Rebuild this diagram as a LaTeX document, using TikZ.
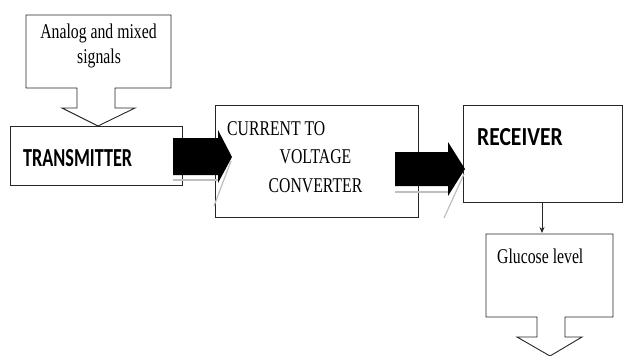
\documentclass[tikz,border=0pt]{standalone}
\usepackage{fontspec}
\setmainfont{Liberation Serif}
\newfontfamily\narrowserif[FakeStretch=0.75]{Liberation Serif}
\newfontfamily\calibT[FakeStretch=0.70]{Carlito}
\newfontfamily\calibR[FakeStretch=0.83]{Carlito}
\usetikzlibrary{arrows.meta}
\tikzset{
  boxline/.style={draw=black!85, line width=0.9pt},
  serifText/.style={font=\narrowserif\fontsize{21}{26}\selectfont, inner sep=0pt, align=center},
  bigCapsT/.style={font=\calibT\bfseries\fontsize{26}{30}\selectfont, inner sep=0pt},
  bigCapsR/.style={font=\calibR\bfseries\fontsize{26}{30}\selectfont, inner sep=0pt},
  blockArrow/.style={fill=black, draw=none},
  shadowLine/.style={draw=black!25, line width=1.2pt},
}
\begin{document}
\begin{tikzpicture}[x=1pt,y=-1pt]
\useasboundingbox[fill=white] (0,0) rectangle (624,356);

% Callout: Analog and mixed signals
\draw[boxline] (26,15) -- (171,15) -- (171,88) -- (115,88) -- (115,108) -- (135,108)
  -- (98,126) -- (62,108) -- (77,108) -- (77,88) -- (26,88) -- cycle;
\node[serifText, anchor=base] (sig1) at (98.5,38) {Analog and mixed};
\node[serifText, anchor=base] (sig2) at (99,63) {signals};

% Transmitter
\node[boxline, rectangle, minimum width=172pt, minimum height=59pt, inner sep=0pt] (tx) at (96,155.5) {};
\node[bigCapsT, anchor=base west] (txt) at (23,166) {TRANSMITTER};

% Converter
\node[boxline, rectangle, minimum width=203pt, minimum height=112pt, inner sep=0pt] (conv) at (316.5,161) {};
\node[serifText, anchor=base west] (cv1) at (227,135) {CURRENT TO};
\node[serifText, anchor=base] (cv2) at (315.5,163) {VOLTAGE};
\node[serifText, anchor=base] (cv3) at (315.5,192) {CONVERTER};

% Receiver
\node[boxline, rectangle, minimum width=159pt, minimum height=97pt, inner sep=0pt] (rx) at (542.5,153.5) {};
\node[bigCapsR, anchor=base west] (rxt) at (477,145) {RECEIVER};

% Glucose callout
\draw[boxline] (486,234) -- (613,234) -- (613,317) -- (565,317) -- (565,337) -- (582,337)
  -- (550,356) -- (517,337) -- (537,337) -- (537,317) -- (486,317) -- cycle;
\node[serifText, anchor=base west] (glu) at (497,263) {Glucose level};
\coordinate (gtop) at (542,233);

% Block arrow 1 (transmitter -> converter)
\draw[shadowLine] (173,180) -- (218,180);
\draw[shadowLine] (231,161) -- (214,206);
\fill[blockArrow] (173,138) -- (218,138) -- (218,130) -- (232,157) -- (218,183) -- (218,175) -- (173,175) -- cycle;

% Block arrow 2 (converter -> receiver)
\draw[shadowLine] (395,192) -- (450,192);
\draw[shadowLine] (464,174) -- (444,218);
\fill[blockArrow] (395,152) -- (448,152) -- (448,142) -- (465,169) -- (448,196) -- (448,186) -- (395,186) -- cycle;

% Receiver -> glucose
\draw[black!85, line width=0.8pt, -{Stealth[length=6pt,width=5pt]}] (rx.south -| gtop) -- (gtop);
\end{tikzpicture}
\end{document}
